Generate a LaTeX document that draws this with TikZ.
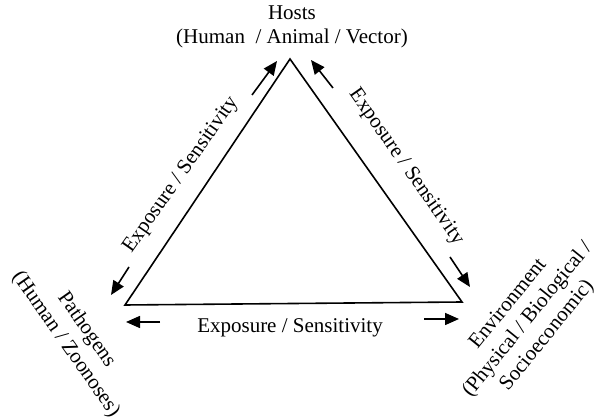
\documentclass[tikz,border=0pt]{standalone}
\usepackage{fontspec}
\setmainfont{Liberation Serif}
\usetikzlibrary{arrows.meta}
\begin{document}
\begin{tikzpicture}[x=1pt,y=-1pt,
  lbl/.style={inner sep=0pt,align=center,font=\fontsize{21}{24}\selectfont},
  rlbl/.style={lbl,font=\fontsize{21}{25}\selectfont},
  side/.style={line width=1.6pt},
  arr/.style={line width=1.6pt,-{Triangle[length=14pt,width=12pt]}}]
\useasboundingbox (0,0) rectangle (598,419);
% corners
\coordinate (H) at (290,59);
\coordinate (P) at (125,305);
\coordinate (E) at (462,302);
\draw[side,line join=miter] (H) -- (P) -- (E) -- cycle;
% arrow end points
\coordinate (la1) at (252,95);  \coordinate (la2) at (277,61);
\coordinate (lb1) at (129,267); \coordinate (lb2) at (111,295);
\coordinate (ra1) at (333,88);  \coordinate (ra2) at (311,60);
\coordinate (rb1) at (450,257); \coordinate (rb2) at (470,287);
\coordinate (ba1) at (160,322); \coordinate (ba2) at (126,322);
\coordinate (bb1) at (424,319); \coordinate (bb2) at (459,319);
\draw[arr] (la1) -- (la2);
\draw[arr] (lb1) -- (lb2);
\draw[arr] (ra1) -- (ra2);
\draw[arr] (rb1) -- (rb2);
\draw[arr] (ba1) -- (ba2);
\draw[arr] (bb1) -- (bb2);
% labels
\node[lbl] (hosts) at (292,27) {Hosts\\(Human~~/ Animal / Vector)};
\node[rlbl,rotate=-55] (path) at (76,337) {Pathogens\\(Human / Zoonoses)};
\node[rlbl,rotate=51] (env) at (528,320) {Environment\\(Physical / Biological /\\Socioeconomic)};
\node[lbl] (bot) at (290,328) {Exposure / Sensitivity};
\node[lbl,rotate=55] (left) at (181,175) {Exposure / Sensitivity};
\node[lbl,rotate=-55] (right) at (406,167) {Exposure / Sensitivity};
\end{tikzpicture}
\end{document}
